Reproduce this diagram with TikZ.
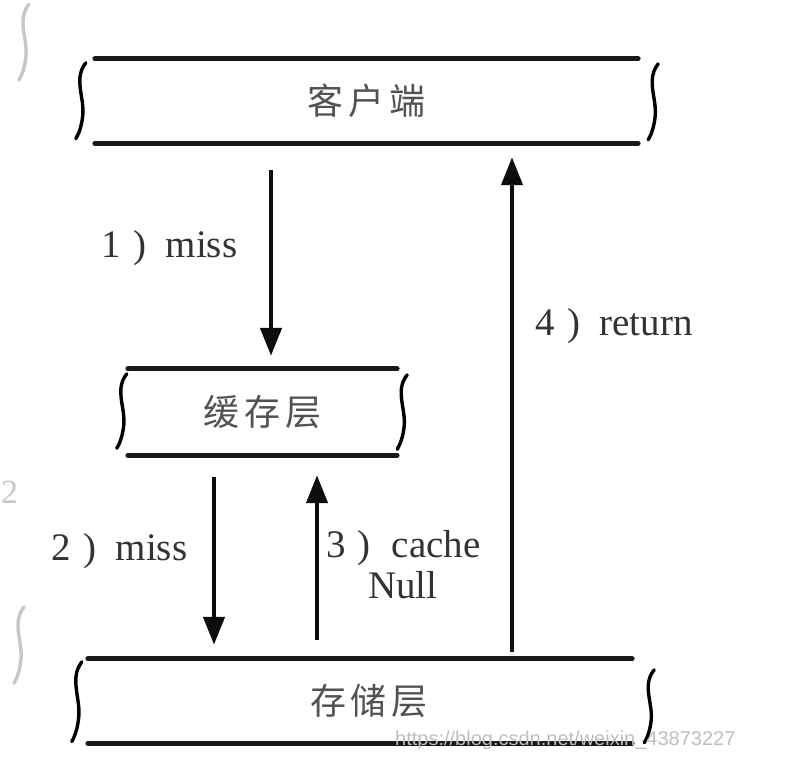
\documentclass[tikz,border=0pt]{standalone}
\usepackage{fontspec}
\setmainfont{Liberation Serif}
\newfontfamily\cjk{Noto Sans CJK SC}
\newfontfamily\wmfont{Liberation Sans}
\usetikzlibrary{arrows.meta,calc}
\begin{document}
\begin{tikzpicture}[x=1pt,y=-1pt,
  boxline/.style={line width=4.8pt,line cap=round,draw=black!90},
  brc/.style={line width=3.4pt,line cap=round},
  arr/.style={line width=4.4pt,draw=black!95,-{Triangle[length=28pt,width=21pt]}},
  layer/.style={draw=none,inner sep=0pt,text=black!68,font=\cjk\fontsize{36}{40}\selectfont},
  lbl/.style={inner sep=0pt,anchor=base west,text=black!80,font=\fontsize{39}{43}\selectfont},
  faint/.style={inner sep=0pt,anchor=base west,text=black!22},
  sbr/.pic={\draw[brc] (0,0) .. controls (-3,4) and (-6,9) .. (-6,18) .. controls (-6,30) and (-2,40) .. (-3,52) .. controls (-4,63) and (-7,71) .. (-10,76);}
]
\fill[white] (0,0) rectangle (786,768);
\useasboundingbox (0,0) rectangle (786,768);

% layers
\node[layer,minimum width=543pt,minimum height=84pt] (client) at (366.5,101) {客\kern5pt户\kern5pt端};
\node[layer,minimum width=269pt,minimum height=86pt] (cache) at (262.5,412) {缓\kern5pt存\kern5pt层};
\node[layer,minimum width=544pt,minimum height=84pt] (store) at (360,701) {\kern18pt 存\kern5pt储\kern5pt层};

\foreach \n in {client,cache,store}{
  \draw[boxline] (\n.north west) -- (\n.north east);
  \draw[boxline] (\n.south west) -- (\n.south east);
}
\pic at ($(client.north west)+(-9,4)$) {sbr};
\pic at ($(client.north east)+(20,5)$) {sbr};
\pic[yscale=0.98] at ($(cache.north west)+(-1,5)$) {sbr};
\pic[yscale=0.98] at ($(cache.north east)+(10,6)$) {sbr};
\pic[yscale=1.05] at ($(store.north west)+(-6,3)$) {sbr};
\pic[yscale=0.96] at ($(store.north east)+(22,11)$) {sbr};

% arrow columns
\coordinate (a1) at (271,0);
\coordinate (a2) at (214,0);
\coordinate (a3) at (317,0);
\coordinate (a4) at (512,0);

\draw[arr,shorten <=27pt,shorten >=13pt] (client.south -| a1) -- (cache.north -| a1);
\draw[arr,shorten <=22pt,shorten >=14pt] (cache.south -| a2) -- (store.north -| a2);
\draw[arr,shorten <=19pt,shorten >=20pt] (store.north -| a3) -- (cache.south -| a3);
\draw[arr,shorten <=7pt,shorten >=14pt] (store.north -| a4) -- (client.south -| a4);

% labels
\node[lbl] (l1) at (101,257) {1\kern13pt)\kern19pt miss};
\node[lbl] (l2) at (51,560) {2\kern13pt)\kern19pt miss};
\node[lbl] (l3) at (326,557) {3\kern12pt)\kern21pt cache};
\node[lbl] (l3b) at (368,598) {Null};
\node[lbl] (l4) at (535,335) {4\kern13pt)\kern19pt return};

% faint marks and watermark
\node[faint,font=\fontsize{34}{38}\selectfont] (g2) at (1,503) {2};
\pic[color=black!22] at (29,4) {sbr};
\pic[color=black!22] at (24,607) {sbr};
\node[faint,text=black!25,font=\wmfont\fontsize{20}{22}\selectfont] (wm) at (395,745) {https://blog.csdn.net/weixin\_43873227};
\end{tikzpicture}
\end{document}
